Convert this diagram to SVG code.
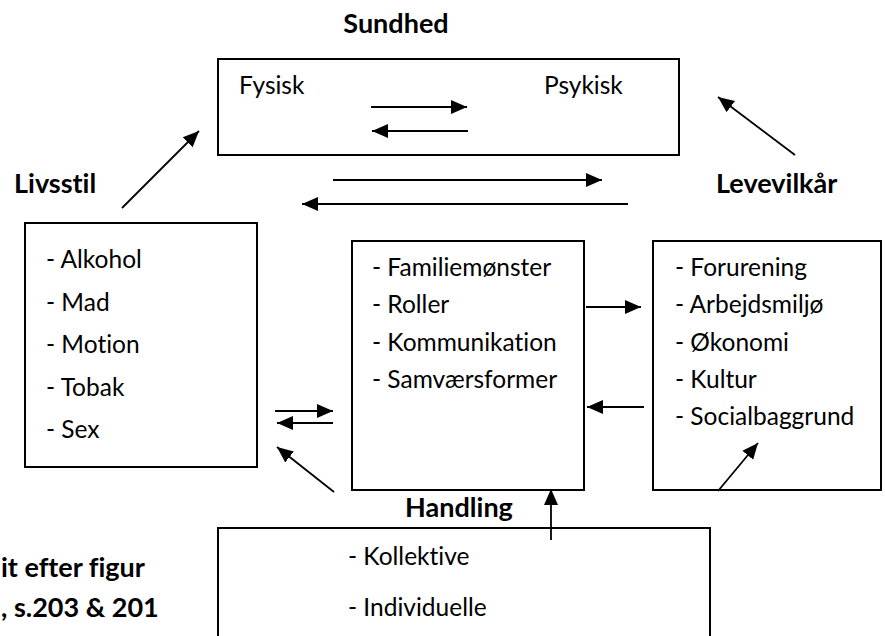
<svg xmlns="http://www.w3.org/2000/svg" width="885" height="636" viewBox="0 0 885 636">
  <style>
    .box { fill: #fff; stroke: #000; stroke-width: 2; }
    .item { font-family: Lato, "Open Sans", "Liberation Sans", sans-serif; font-size: 24.5px; fill: #000; font-variant-ligatures: none; }
    .head { font-family: Lato, "Open Sans", "Liberation Sans", sans-serif; font-size: 27px; font-weight: bold; fill: #000; font-variant-ligatures: none; }
    .con { stroke: #000; stroke-width: 1.8; fill: none; marker-end: url(#arrow); }
  </style>
  <defs>
    <marker id="arrow" markerUnits="userSpaceOnUse" markerWidth="18" markerHeight="16" refX="16" refY="8" orient="auto">
      <path d="M0,1 L16,8 L0,15 Z" fill="#000"/>
    </marker>
  </defs>
  <rect width="885" height="636" fill="#fff"/>

  <!-- Health: physical / mental -->
  <g id="sundhed">
    <text class="head" x="396" y="33" text-anchor="middle">Sundhed</text>
    <rect class="box" x="218" y="59" width="461" height="96"/>
    <text class="item" x="239" y="94">Fysisk</text>
    <text class="item" x="544" y="94">Psykisk</text>
  </g>

  <!-- Lifestyle -->
  <g id="livsstil">
    <text class="head" x="14" y="193">Livsstil</text>
    <rect class="box" x="25" y="223" width="232" height="244"/>
    <text class="item" x="46" y="268">- Alkohol</text>
    <text class="item" x="46" y="311">- Mad</text>
    <text class="item" x="46" y="353">- Motion</text>
    <text class="item" x="46" y="396">- Tobak</text>
    <text class="item" x="46" y="438">- Sex</text>
  </g>

  <!-- Family -->
  <g id="familie">
    <rect class="box" x="352" y="241" width="232" height="249"/>
    <text class="item" x="372" y="276">- Familiemønster</text>
    <text class="item" x="372" y="313">- Roller</text>
    <text class="item" x="372" y="351">- Kommunikation</text>
    <text class="item" x="372" y="388">- Samværsformer</text>
  </g>

  <!-- Living conditions -->
  <g id="levevilkaar">
    <text class="head" x="716" y="193">Levevilkår</text>
    <rect class="box" x="653" y="241" width="228" height="249"/>
    <text class="item" x="675" y="276">- Forurening</text>
    <text class="item" x="675" y="313">- Arbejdsmiljø</text>
    <text class="item" x="675" y="351">- Økonomi</text>
    <text class="item" x="675" y="388">- Kultur</text>
    <text class="item" x="675" y="425">- Socialbaggrund</text>
  </g>

  <!-- Action -->
  <g id="handling">
    <text class="head" x="459" y="517" text-anchor="middle">Handling</text>
    <rect class="box" x="218" y="528" width="492" height="130"/>
    <text class="item" x="348" y="565">- Kollektive</text>
    <text class="item" x="348" y="616">- Individuelle</text>
  </g>

  <!-- Source note -->
  <g id="kilde">
    <text class="head" x="1" y="577">it efter figur</text>
    <text class="head" x="1" y="617">, s.203 &amp; 201</text>
  </g>

  <!-- Connectors -->
  <g id="connectors">
    <line class="con" x1="371" y1="107" x2="467" y2="107"/>
    <line class="con" x1="468" y1="131" x2="372" y2="131"/>
    <line class="con" x1="333" y1="180" x2="602" y2="180"/>
    <line class="con" x1="628" y1="204" x2="302" y2="204"/>
    <line class="con" x1="122" y1="208" x2="199" y2="131"/>
    <line class="con" x1="795" y1="155" x2="718" y2="97"/>
    <line class="con" x1="586" y1="307" x2="641" y2="307"/>
    <line class="con" x1="644" y1="407" x2="587" y2="407"/>
    <line class="con" x1="275" y1="411" x2="333" y2="411"/>
    <line class="con" x1="333" y1="423" x2="277" y2="423"/>
    <line class="con" x1="334" y1="492" x2="277" y2="447"/>
    <line class="con" x1="551" y1="540" x2="551" y2="489"/>
    <line class="con" x1="718" y1="491" x2="758" y2="443"/>
  </g>
</svg>
